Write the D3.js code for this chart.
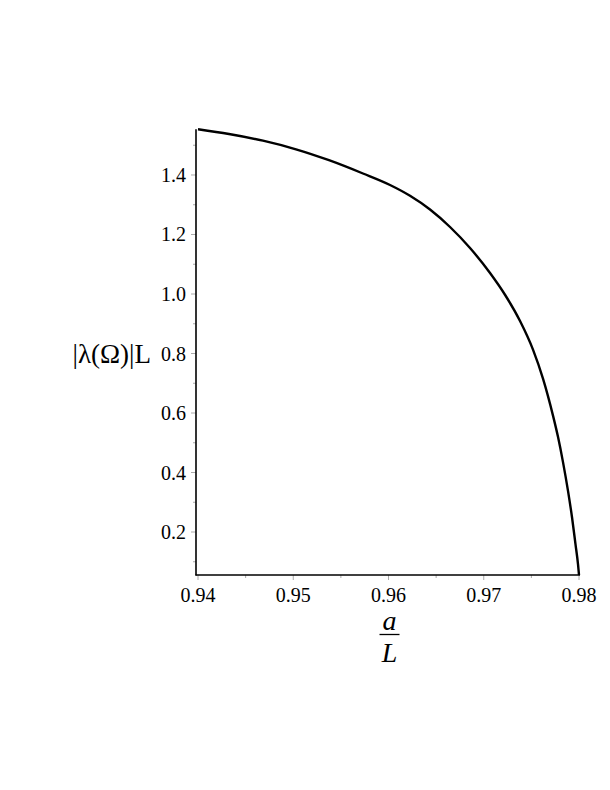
<!DOCTYPE html>
<html>
<head>
<meta charset="utf-8">
<script src="https://cdn.jsdelivr.net/npm/d3@7"></script>
<style>
  html, body { margin: 0; padding: 0; background: #fff; }
  svg { display: block; }
  text { font-family: "Liberation Serif", "Times New Roman", serif; fill: #000; }
</style>
</head>
<body>
<svg id="chart" width="610" height="790"></svg>
<script>
// Data
const xValues = [0.94000, 0.94325, 0.94682, 0.95029, 0.95375, 0.95732, 0.96016, 0.96226, 0.96436, 0.96646, 0.96856, 0.97066, 0.97223, 0.97381, 0.97517, 0.97622, 0.97727, 0.97780, 0.97832, 0.97885, 0.97927, 0.97963, 0.97990, 0.98000];
const yValues = [1.5536, 1.5378, 1.5153, 1.4864, 1.4497, 1.4050, 1.3664, 1.3301, 1.2840, 1.2252, 1.1546, 1.0706, 0.9975, 0.9092, 0.8131, 0.7156, 0.5913, 0.5190, 0.4350, 0.3375, 0.2487, 0.1593, 0.0904, 0.0555];
const xTicks = [0.94, 0.95, 0.96, 0.97, 0.98];
const xMinorTicks = [0.945, 0.955, 0.965, 0.975];
const yTicks = [0.2, 0.4, 0.6, 0.8, 1.0, 1.2, 1.4];
const yMinorTicks = [0.1, 0.3, 0.5, 0.7, 0.9, 1.1, 1.3, 1.5];

const svg = d3.select("#chart");

const yMin = d3.min(yValues), yMax = d3.max(yValues);
const x = d3.scaleLinear().domain([0.94, 0.98]).range([198, 579]);
const y = d3.scaleLinear().domain([yMin, yMax]).range([575, 129.3]);

const axisX0 = 196;          // y-axis line position
const axisY0 = y(yMin);      // x-axis line position

// minor & major ticks (gray)
const gTicks = svg.append("g").attr("stroke", "#aaa").attr("stroke-width", 1);
gTicks.selectAll(".xmaj").data(xTicks).enter().append("line")
  .attr("x1", d => x(d)).attr("x2", d => x(d))
  .attr("y1", axisY0).attr("y2", axisY0 + 5);
gTicks.selectAll(".xmin").data(xMinorTicks).enter().append("line")
  .attr("x1", d => x(d)).attr("x2", d => x(d))
  .attr("y1", axisY0).attr("y2", axisY0 + 3);
gTicks.selectAll(".ymaj").data(yTicks).enter().append("line")
  .attr("x1", axisX0 - 5).attr("x2", axisX0)
  .attr("y1", d => y(d)).attr("y2", d => y(d));
gTicks.selectAll(".ymin").data(yMinorTicks.filter(v => v >= yMin && v <= yMax)).enter().append("line")
  .attr("x1", axisX0 - 3).attr("x2", axisX0)
  .attr("y1", d => y(d)).attr("y2", d => y(d));

// axis lines
svg.append("line").attr("x1", axisX0).attr("x2", axisX0)
  .attr("y1", y(yMax)).attr("y2", axisY0 + 0.5)
  .attr("stroke", "#000").attr("stroke-width", 1.6);
svg.append("line").attr("x1", axisX0 - 0.5).attr("x2", x(0.98) + 1)
  .attr("y1", axisY0).attr("y2", axisY0)
  .attr("stroke", "#000").attr("stroke-width", 1.6);

// tick labels
svg.selectAll(".xl").data(xTicks).enter().append("text")
  .attr("x", d => x(d)).attr("y", axisY0 + 27)
  .attr("text-anchor", "middle").attr("font-size", 20)
  .text(d => d3.format(".2f")(d));
svg.selectAll(".yl").data(yTicks).enter().append("text")
  .attr("x", axisX0 - 10).attr("y", d => y(d) + 7)
  .attr("text-anchor", "end").attr("font-size", 20)
  .text(d => d3.format(".1f")(d));

// curve
const line = d3.line()
  .x((d, i) => x(xValues[i]))
  .y(d => y(d))
  .curve(d3.curveMonotoneX);
svg.append("path").datum(yValues)
  .attr("d", line)
  .attr("fill", "none").attr("stroke", "#000").attr("stroke-width", 2.4);

// y-axis label
svg.append("text")
  .attr("x", 151).attr("y", 363)
  .attr("text-anchor", "end").attr("font-size", 27)
  .text("|λ(Ω)|L");

// x-axis label (fraction a / L)
const cx = (x(0.94) + x(0.98)) / 2 + 1;
svg.append("text").attr("x", cx).attr("y", 630)
  .attr("text-anchor", "middle").attr("font-size", 28).attr("font-style", "italic")
  .text("a");
svg.append("line").attr("x1", cx - 10).attr("x2", cx + 10)
  .attr("y1", 634.5).attr("y2", 634.5).attr("stroke", "#000").attr("stroke-width", 1.3);
svg.append("text").attr("x", cx).attr("y", 662)
  .attr("text-anchor", "middle").attr("font-size", 28).attr("font-style", "italic")
  .text("L");
</script>
</body>
</html>
